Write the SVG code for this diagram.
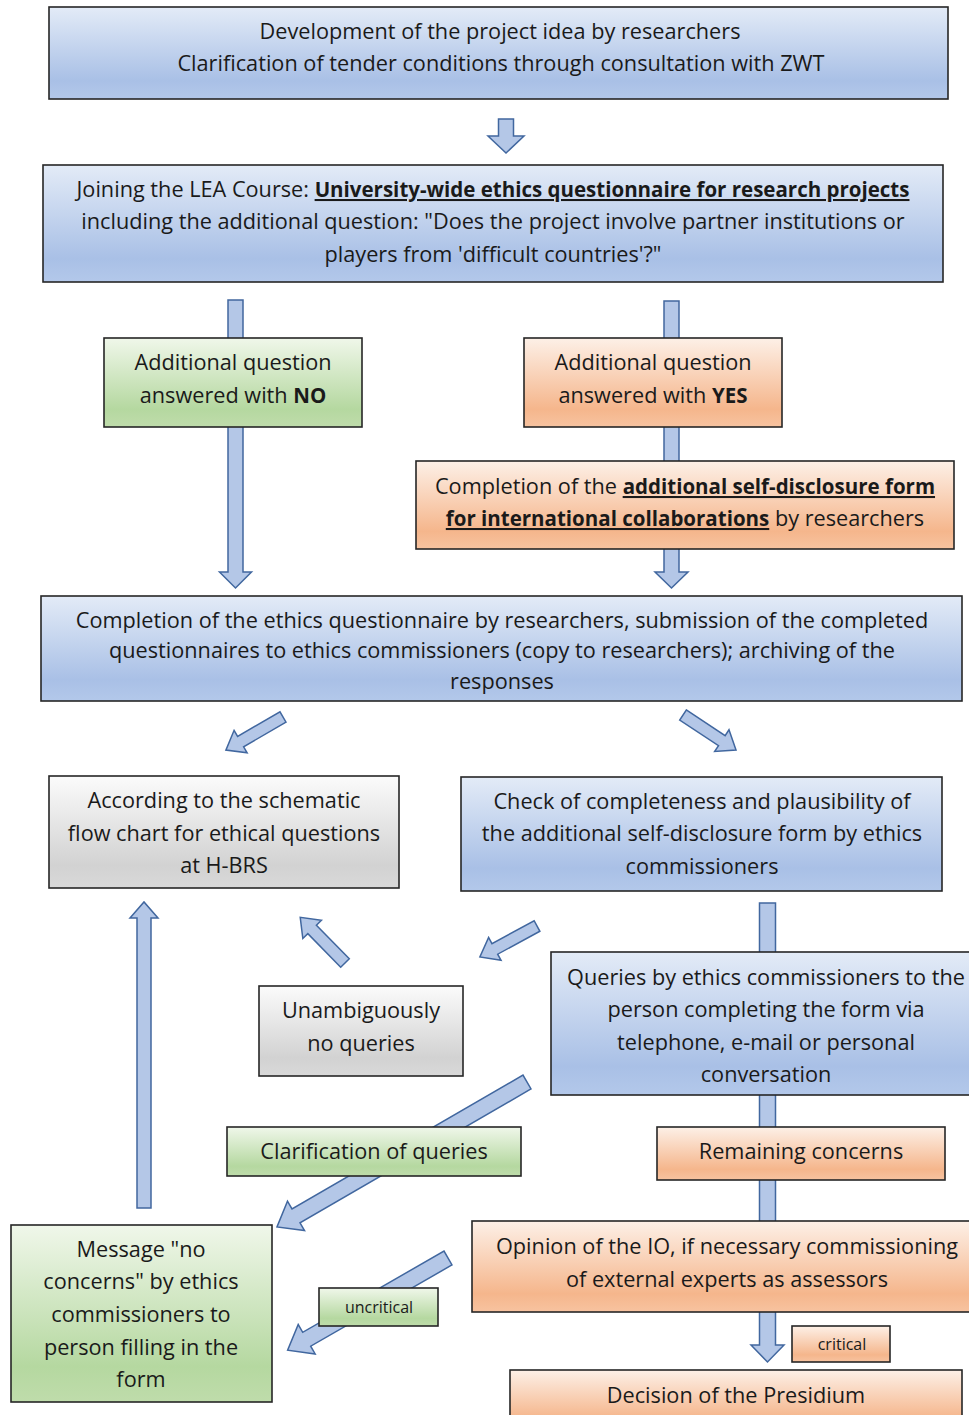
<svg xmlns="http://www.w3.org/2000/svg" width="969" height="1415" viewBox="0 0 969 1415">
<defs>
<linearGradient id="gBlue" x1="0" y1="0" x2="0" y2="1">
<stop offset="0" stop-color="#e3ebf7"/><stop offset="0.8" stop-color="#a9c0e6"/><stop offset="1" stop-color="#b3c8ea"/>
</linearGradient>
<linearGradient id="gGreen" x1="0" y1="0" x2="0" y2="1">
<stop offset="0" stop-color="#f0f7ea"/><stop offset="0.8" stop-color="#b5d8a0"/><stop offset="1" stop-color="#bfdcab"/>
</linearGradient>
<linearGradient id="gOrange" x1="0" y1="0" x2="0" y2="1">
<stop offset="0" stop-color="#fdf0e7"/><stop offset="0.8" stop-color="#f5b68c"/><stop offset="1" stop-color="#f7c3a0"/>
</linearGradient>
<linearGradient id="gGray" x1="0" y1="0" x2="0" y2="1">
<stop offset="0" stop-color="#fbfbfb"/><stop offset="0.8" stop-color="#d2d2d2"/><stop offset="1" stop-color="#d9d9d9"/>
</linearGradient>
</defs>
<style>
.box{stroke:#262626;stroke-width:1.6}
.blue{fill:url(#gBlue)}
.green{fill:url(#gGreen)}
.orange{fill:url(#gOrange)}
.gray{fill:url(#gGray)}
.arrow{fill:#b4c7e7;stroke:#41679f;stroke-width:1.5;stroke-linejoin:miter}
text{font-family:"Open Sans","DejaVu Sans",sans-serif;font-size:21.7px;fill:#1a1a1a;text-anchor:middle}
.sm{font-size:16px}
.b{font-weight:bold;font-size:20.5px}
.u{font-weight:bold;font-size:20.5px;text-decoration:underline}
</style>
<g id="connectors">
<polygon class="arrow" transform="translate(506,119) rotate(90)" points="0,-7.5 17,-7.5 17,-18 34,0 17,18 17,7.5 0,7.5"/>
<polygon class="arrow" transform="translate(235.5,300) rotate(90)" points="0,-7.5 272,-7.5 272,-16 288,0 272,16 272,7.5 0,7.5"/>
<polygon class="arrow" transform="translate(671.5,301) rotate(90)" points="0,-7.5 271,-7.5 271,-16.5 287,0 271,16.5 271,7.5 0,7.5"/>
<polygon class="arrow" transform="translate(283,717) rotate(149.9)" points="0,-6 49,-6 49,-13 66,0 49,13 49,6 0,6"/>
<polygon class="arrow" transform="translate(683,715) rotate(33.4)" points="0,-6 46.5,-6 46.5,-13 63.5,0 46.5,13 46.5,6 0,6"/>
<polygon class="arrow" transform="translate(144,1208) rotate(-90)" points="0,-7 290,-7 290,-14 306,0 290,14 290,7 0,7"/>
<polygon class="arrow" transform="translate(345,963) rotate(-134.4)" points="0,-6 47,-6 47,-13 64,0 47,13 47,6 0,6"/>
<polygon class="arrow" transform="translate(537,926) rotate(151.5)" points="0,-6 48,-6 48,-13 65,0 48,13 48,6 0,6"/>
<polygon class="arrow" transform="translate(767.5,903) rotate(90)" points="0,-8 442,-8 442,-16.5 459,0 442,16.5 442,8 0,8"/>
<polygon class="arrow" transform="translate(527,1082) rotate(149.9)" points="0,-8 267,-8 267,-17 289,0 267,17 267,8 0,8"/>
<polygon class="arrow" transform="translate(448,1258) rotate(150.1)" points="0,-8 163,-8 163,-17 185,0 163,17 163,8 0,8"/>
</g>
<g id="n1">
<rect class="box blue" x="49" y="7" width="899" height="92"/>
<text x="500" y="39">Development of the project idea by researchers</text>
<text x="501" y="71">Clarification of tender conditions through consultation with ZWT</text>
</g>
<g id="n2">
<rect class="box blue" x="43" y="165" width="900" height="117"/>
<text x="493" y="197">Joining the LEA Course: <tspan class="u">University-wide ethics questionnaire for research projects</tspan></text>
<text x="493" y="229">including the additional question: "Does the project involve partner institutions or</text>
<text x="493" y="262">players from 'difficult countries'?"</text>
</g>
<g id="n3">
<rect class="box green" x="104" y="338" width="258" height="89"/>
<text x="233" y="370">Additional question</text>
<text x="233" y="403">answered with <tspan class="b">NO</tspan></text>
</g>
<g id="n4">
<rect class="box orange" x="524" y="338" width="258" height="89"/>
<text x="653" y="370">Additional question</text>
<text x="653" y="403">answered with <tspan class="b">YES</tspan></text>
</g>
<g id="n5">
<rect class="box orange" x="416" y="461" width="538" height="88"/>
<text x="685" y="494">Completion of the <tspan class="u">additional self-disclosure form</tspan></text>
<text x="685" y="526"><tspan class="u">for international collaborations</tspan> by researchers</text>
</g>
<g id="n6">
<rect class="box blue" x="41" y="596" width="921" height="105"/>
<text x="502" y="628">Completion of the ethics questionnaire by researchers, submission of the completed</text>
<text x="502" y="658">questionnaires to ethics commissioners (copy to researchers); archiving of the</text>
<text x="502" y="689">responses</text>
</g>
<g id="n7">
<rect class="box gray" x="49" y="776" width="350" height="112"/>
<text x="224" y="808">According to the schematic</text>
<text x="224" y="841">flow chart for ethical questions</text>
<text x="224" y="873">at H-BRS</text>
</g>
<g id="n8">
<rect class="box blue" x="461" y="777" width="481" height="114"/>
<text x="702" y="809">Check of completeness and plausibility of</text>
<text x="702" y="841">the additional self-disclosure form by ethics</text>
<text x="702" y="874">commissioners</text>
</g>
<g id="n9">
<rect class="box gray" x="259" y="986" width="204" height="90"/>
<text x="361" y="1018">Unambiguously</text>
<text x="361" y="1051">no queries</text>
</g>
<g id="n10">
<rect class="box blue" x="551" y="952" width="422" height="143"/>
<text x="766" y="985">Queries by ethics commissioners to the</text>
<text x="766" y="1017">person completing the form via</text>
<text x="766" y="1050">telephone, e-mail or personal</text>
<text x="766" y="1082">conversation</text>
</g>
<g id="n11">
<rect class="box green" x="227" y="1127" width="294" height="49"/>
<text x="374" y="1159">Clarification of queries</text>
</g>
<g id="n12">
<rect class="box orange" x="657" y="1127" width="288" height="53"/>
<text x="801" y="1159">Remaining concerns</text>
</g>
<g id="n13">
<rect class="box green" x="11" y="1225" width="261" height="177"/>
<text x="141" y="1257">Message "no</text>
<text x="141" y="1289">concerns" by ethics</text>
<text x="141" y="1322">commissioners to</text>
<text x="141" y="1355">person filling in the</text>
<text x="141" y="1387">form</text>
</g>
<g id="n14">
<rect class="box orange" x="472" y="1221" width="501" height="91"/>
<text x="727" y="1254">Opinion of the IO, if necessary commissioning</text>
<text x="727" y="1287">of external experts as assessors</text>
</g>
<g id="n15">
<rect class="box green" x="319" y="1288" width="119" height="38"/>
<text class="sm" x="379" y="1313">uncritical</text>
</g>
<g id="n16">
<rect class="box orange" x="792" y="1326" width="98" height="36"/>
<text class="sm" x="842" y="1350">critical</text>
</g>
<g id="n17">
<rect class="box orange" x="510" y="1370" width="452" height="60"/>
<text x="736" y="1403">Decision of the Presidium</text>
</g>
</svg>
